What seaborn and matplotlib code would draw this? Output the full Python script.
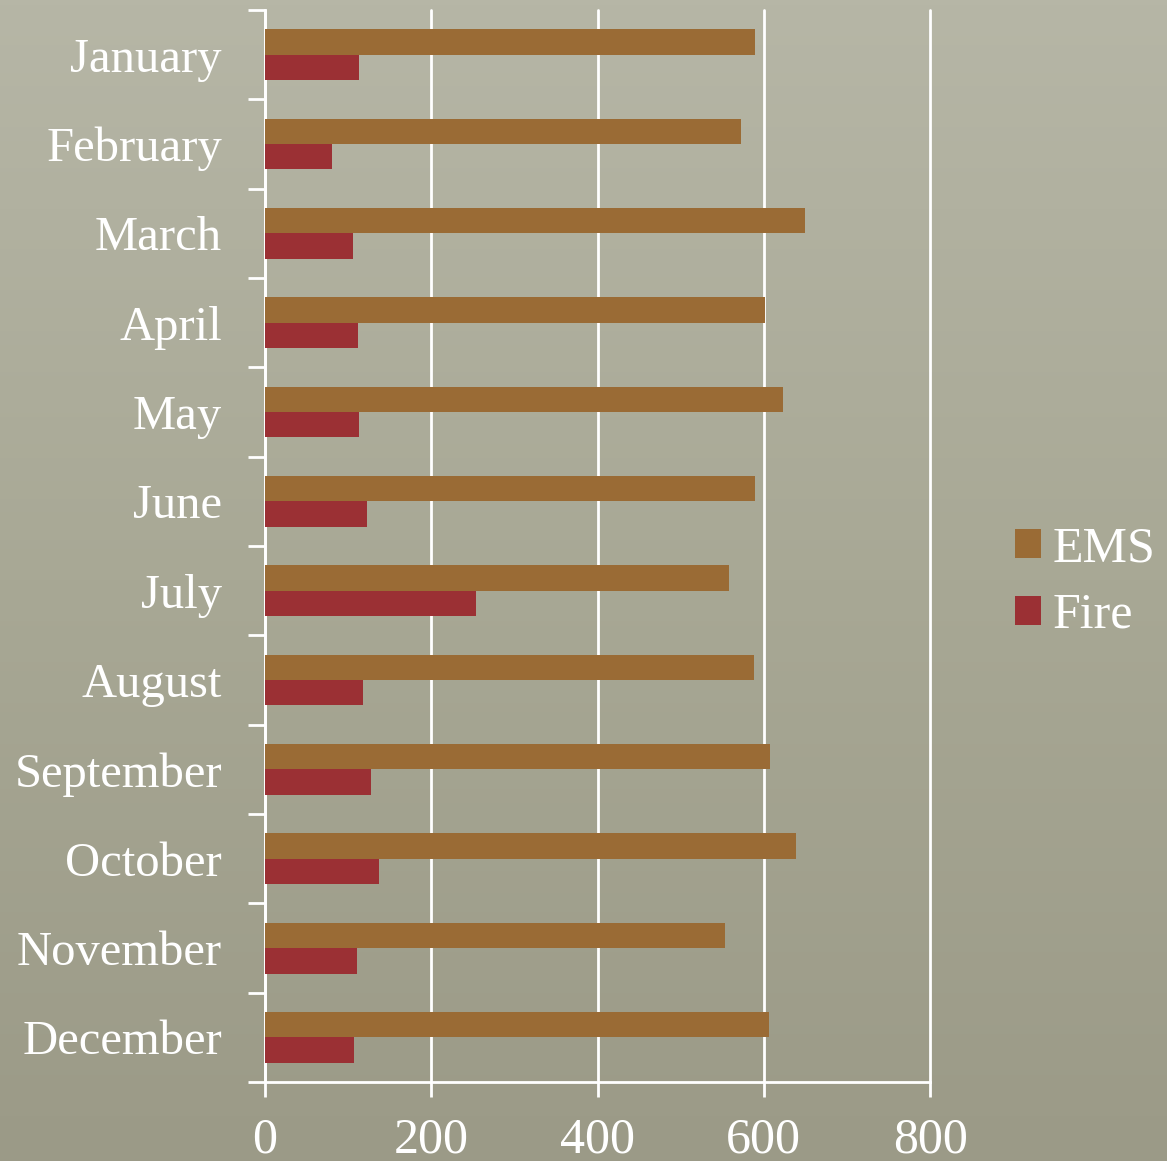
import numpy as np
import pandas as pd
import seaborn as sns
import matplotlib.pyplot as plt
from matplotlib.colors import LinearSegmentedColormap
from matplotlib.ticker import FixedLocator

months = ["January", "February", "March", "April", "May", "June",
          "July", "August", "September", "October", "November", "December"]
ems = [589, 572, 649, 601, 623, 589, 558, 588, 607, 639, 553, 606]
fire = [113, 81, 106, 112, 113, 123, 254, 118, 127, 137, 111, 107]

df = pd.DataFrame({
    "month": months * 2,
    "calls": ems + fire,
    "type": ["EMS"] * len(months) + ["Fire"] * len(months),
})

sns.set_style("white")
plt.rcParams["font.family"] = ["Liberation Serif", "DejaVu Serif"]

fig = plt.figure(figsize=(11.67, 11.61), dpi=100)

# background: soft vertical gradient
bg = fig.add_axes([0, 0, 1, 1], zorder=-10)
grad = np.linspace(0, 1, 256).reshape(-1, 1)
bg.imshow(grad, aspect="auto", extent=[0, 1, 0, 1],
          cmap=LinearSegmentedColormap.from_list("bg", ["#b6b6a6", "#a8a895", "#9b9a87"]))
bg.axis("off")

ax = fig.add_axes([0.2271, 0.068, 0.5699, 0.9234])
ax.set_facecolor("none")

sns.barplot(data=df, y="month", x="calls", hue="type", orient="h",
            palette={"EMS": "#9a6b35", "Fire": "#9b3034"},
            width=0.57, saturation=1, linewidth=0, ax=ax, zorder=3)

ax.set_xlim(0, 800)
ax.set_ylim(len(months) - 0.5, -0.5)
ax.set_xticks([0, 200, 400, 600, 800])
ax.grid(axis="x", color="white", lw=2, zorder=0)
for gl in ax.get_xgridlines():
    gl.set_clip_on(False)
ax.set_xlabel("")
ax.set_ylabel("")

for s in ["top", "right"]:
    ax.spines[s].set_visible(False)
for s in ["left", "bottom"]:
    ax.spines[s].set_color("white")
    ax.spines[s].set_linewidth(2)

ax.tick_params(axis="y", which="major", left=True, length=0, pad=31,
               labelsize=35, labelcolor="white")
ax.yaxis.set_minor_locator(FixedLocator(np.arange(-0.5, len(months), 1.0)))
ax.tick_params(axis="y", which="minor", left=True, length=12, width=2, color="white")
ax.tick_params(axis="x", which="major", bottom=True, length=11, width=2, color="white",
               pad=14, labelsize=36, labelcolor="white")

leg = ax.legend(loc="center left", bbox_to_anchor=(1.128, 0.466), frameon=False,
                fontsize=36, labelcolor="white", handlelength=0.52, handleheight=0.52,
                handletextpad=0.22, labelspacing=0.4, borderpad=0, borderaxespad=0)
for h in leg.legend_handles:
    h.set_linewidth(0)

fig.savefig("out.png", dpi=100)
